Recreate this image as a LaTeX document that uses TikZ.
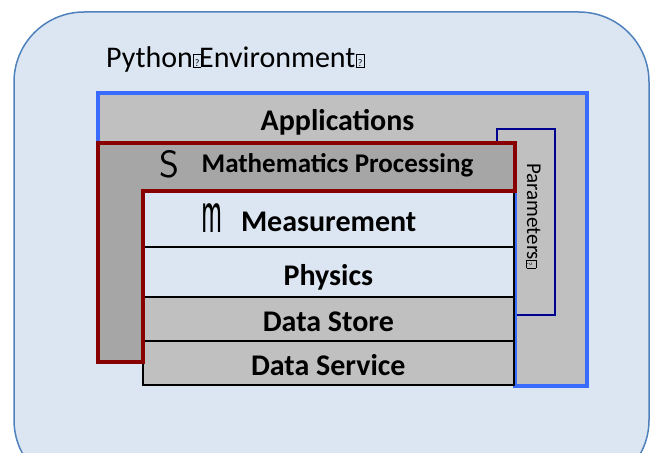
\documentclass[tikz,border=0pt]{standalone}
\usepackage{fontspec}
\setmainfont{Carlito}

\definecolor{envfill}{HTML}{DCE6F2}
\definecolor{envline}{HTML}{4F81BD}
\definecolor{appline}{HTML}{3A6BFF}
\definecolor{parline}{HTML}{000090}
\definecolor{mathline}{HTML}{880000}
\definecolor{lightgray}{HTML}{C0C0C0}
\definecolor{midgray}{HTML}{A6A6A6}

% missing-glyph box as printed: width, height, size of the ?
\newcommand{\qbox}[3]{{\setlength{\fboxsep}{0pt}\setlength{\fboxrule}{0.6pt}\fbox{\makebox[#1][c]{\rule{0pt}{#2}\raisebox{0.15#2}{\fontsize{#3}{#3}\selectfont ?}}}}}

\tikzset{
  layer/.style={draw=black, line width=1.5pt},
  layertext/.style={font=\bfseries\fontsize{30}{30}\selectfont, anchor=base, inner sep=0pt},
  glyph/.style={inner sep=0pt},
}

\begin{document}
\begin{tikzpicture}[x=1pt, y=-1pt]

\useasboundingbox (0,0) rectangle (652,452);
\clip (0,0) rectangle (652,452);

% Python environment
\draw[fill=envfill, draw=envline, line width=1.5pt, rounded corners=70pt] (14,12) rectangle (649,490);
\node[anchor=base west, inner sep=0pt, font=\fontsize{30}{30}\selectfont] (env) at (106,67) {Python\qbox{7pt}{12pt}{10}\kern-2pt Environment\qbox{8pt}{12pt}{10}};

% Applications (fill first, outline after the parameters box)
\fill[lightgray] (98,93) -- (587,93) -- (587,386) -- (515,386) -- (515,143) -- (98,143) -- cycle;

% Parameters
\draw[fill=lightgray, draw=parline, line width=2pt] (497,129) rectangle (555,315);
\node[rotate=-90, anchor=base west, inner sep=0pt, font=\fontsize{21}{21}\selectfont] (params) at (527,163) {Parameters\qbox{7pt}{9pt}{7}};

\draw[draw=appline, line width=4pt] (98,93) -- (587,93) -- (587,386) -- (515,386) -- (515,143) -- (98,143) -- cycle;
\node[layertext] (apps) at (337.5,130) {Applications};

% Layer stack
\draw[layer, fill=envfill] (143,191) rectangle (514,247);
\draw[layer, fill=envfill] (143,247) rectangle (514,297);
\draw[layer, fill=lightgray] (143,297) rectangle (514,341);
\draw[layer, fill=lightgray] (143,341) rectangle (514,385);

\node[layertext] (measure) at (328.7,231.7) {Measurement};
\node[layertext] (physics) at (328.3,285) {Physics};
\node[layertext] (store) at (328.3,331.7) {Data Store};
\node[layertext] (service) at (328.3,375) {Data Service};
\node[glyph] (mglyph) at (212,218) {\scalebox{0.95}[2.2]{\sffamily\fontsize{30}{30}\selectfont m}};

% Mathematics processing
\draw[fill=midgray, draw=mathline, line width=4.5pt] (98,143) -- (515,143) -- (515,191) -- (143,191) -- (143,362) -- (98,362) -- cycle;
\node[layertext, font=\bfseries\fontsize{27}{27}\selectfont] (maths) at (337.5,172) {Mathematics Processing};
\node[glyph, font=\sffamily\fontsize{38}{38}\selectfont] (sglyph) at (169,164.5) {S};

\end{tikzpicture}
\end{document}
